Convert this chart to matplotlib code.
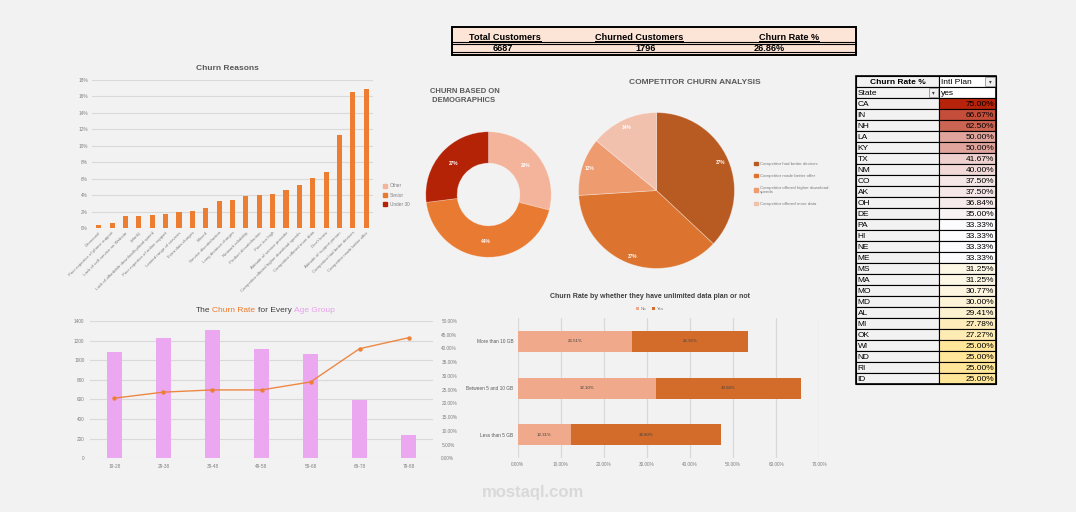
import numpy as np
import matplotlib
matplotlib.use('Agg')
import matplotlib.pyplot as plt
from matplotlib.patches import Rectangle, Patch
from matplotlib.colors import LinearSegmentedColormap, TwoSlopeNorm

plt.rcParams['font.family'] = ['Liberation Sans', 'DejaVu Sans']

W, H = 1076, 512

# ---- data ----
kpi_labels = ['Total Customers', 'Churned Customers', 'Churn Rate %']
kpi_values = ['6687', '1796', '26.86%']

reasons = ["Deceased", "Poor expertise of phone support", "Lack of self-service on Website",
           "(blank)", "Lack of affordable download/upload speed", "Poor expertise of online support",
           "Limited range of services", "Extra data charges", "Moved", "Service dissatisfaction",
           "Long distance charges", "Network reliability", "Product dissatisfaction", "Price too high",
           "Attitude of service provider", "Competitor offered higher download speeds",
           "Competitor offered more data", "Don't know", "Attitude of support person",
           "Competitor had better devices", "Competitor made better offer"]
reason_pct = [0.4, 0.65, 1.5, 1.5, 1.6, 1.7, 1.95, 2.1, 2.45, 3.3, 3.4, 3.9, 4.0, 4.15,
              4.6, 5.25, 6.1, 6.8, 11.3, 16.5, 16.9]

demo_labels = ['Other', 'Senior', 'Under 30']
demo_pct = [29, 44, 27]

comp_labels = ['Competitor had better devices', 'Competitor made better offer',
               'Competitor offered higher download\nspeeds', 'Competitor offered more data']
comp_pct = [37, 37, 12, 14]

age_groups = ['19-28', '29-38', '39-48', '49-58', '59-68', '69-78', '79-88']
age_customers = [1088, 1230, 1309, 1115, 1064, 595, 238]
age_churn = [21.9, 24.1, 24.9, 24.9, 27.8, 39.9, 43.9]

usage_cats = ['Less than 5 GB', 'Between 5 and 10 GB', 'More than 10 GB']
no_pct = [12.31, 32.10, 26.51]
yes_pct = [34.80, 33.58, 26.91]

states = ['CA', 'IN', 'NH', 'LA', 'KY', 'TX', 'NM', 'CO', 'AK', 'OH', 'DE', 'PA', 'HI',
          'NE', 'ME', 'MS', 'MA', 'MO', 'MD', 'AL', 'MI', 'OK', 'WI', 'ND', 'RI', 'ID']
state_rate = [75.00, 66.67, 62.50, 50.00, 50.00, 41.67, 40.00, 37.50, 37.50, 36.84, 35.00,
              33.33, 33.33, 33.33, 33.33, 31.25, 31.25, 30.77, 30.00, 29.41, 27.78, 27.27,
              25.00, 25.00, 25.00, 25.00]

GRID = '#D9D9D9'
TICK = '#7F7F7F'
TITLE = '#595959'
BG = '#F2F2F2'


def frect(x0, y0, x1, y1):
    return [x0 / W, 1 - y1 / H, (x1 - x0) / W, (y1 - y0) / H]


def style(ax):
    ax.set_facecolor('none')
    for s in ax.spines.values():
        s.set_visible(False)
    ax.tick_params(length=0, labelsize=3.4, labelcolor=TICK)


fig = plt.figure(figsize=(W / 100, H / 100), dpi=100)
fig.patch.set_facecolor(BG)

# ---- Churn reasons ----
ax1 = fig.add_axes(frect(92, 80, 373, 228))
style(ax1)
x = np.arange(len(reasons))
ax1.bar(x, reason_pct, width=0.38, color='#ED7D31', zorder=2)
ax1.set_xlim(-0.5, len(reasons) - 0.5)
ax1.set_ylim(0, 18)
ax1.set_yticks(range(0, 19, 2))
ax1.set_yticklabels([f'{v}%' for v in range(0, 19, 2)])
ax1.yaxis.grid(True, color=GRID, lw=0.8)
ax1.set_axisbelow(True)
ax1.set_xticks(x)
ax1.set_xticklabels(reasons, rotation=45, ha='right', rotation_mode='anchor', fontsize=3.2)
ax1.tick_params(axis='y', pad=3)
ax1.tick_params(axis='x', pad=2)
fig.text(227 / W, 1 - 68 / H, 'Churn Reasons', ha='center', va='center',
         fontsize=6, fontweight='bold', color=TITLE)

# ---- Demographics donut ----
demo_colors = ['#F3B49B', '#E97A31', '#B52307']
ax2 = fig.add_axes(frect(424.5, 130.5, 552.5, 258.5))
ax2.pie(demo_pct, colors=demo_colors, startangle=90, counterclock=False,
        wedgeprops=dict(width=0.5, edgecolor=(1, 1, 1, 0.35), linewidth=0.5),
        autopct='%.0f%%', pctdistance=0.75,
        textprops=dict(color='white', fontsize=3.4, fontweight='bold'))
ax2.set_xlim(-1.02, 1.02)
ax2.set_ylim(-1.02, 1.02)
fig.text(430 / W, 1 - 96 / H, 'CHURN BASED ON\n DEMOGRAPHICS', ha='left', va='center',
         fontsize=5.5, fontweight='bold', color=TITLE, linespacing=1.25)
fig.legend([Patch(color=c) for c in demo_colors], demo_labels, loc='center left',
           bbox_to_anchor=(383 / W, 1 - 195 / H), frameon=False, fontsize=3.4,
           labelcolor=TICK, handlelength=0.8, handleheight=0.8, handletextpad=0.6,
           labelspacing=0.85, borderpad=0, borderaxespad=0)

# ---- Competitor pie ----
comp_colors = ['#B85B22', '#DC7430', '#EE9B70', '#F2C1AE']
ax3 = fig.add_axes(frect(577, 111, 736, 270))
ax3.pie(comp_pct, colors=comp_colors, startangle=90, counterclock=False,
        wedgeprops=dict(edgecolor=(1, 1, 1, 0.35), linewidth=0.6),
        autopct='%.0f%%', pctdistance=0.9,
        textprops=dict(color='white', fontsize=3.4, fontweight='bold'))
ax3.set_xlim(-1.02, 1.02)
ax3.set_ylim(-1.02, 1.02)
fig.text(695 / W, 1 - 82 / H, 'COMPETITOR CHURN ANALYSIS', ha='center', va='center',
         fontsize=6, fontweight='bold', color=TITLE)
fig.legend([Patch(color=c) for c in comp_colors], comp_labels, loc='upper left',
           bbox_to_anchor=(754 / W, 1 - 162 / H), frameon=False, fontsize=3.2,
           labelcolor=TICK, handlelength=0.8, handleheight=0.8, handletextpad=0.6,
           labelspacing=1.7, borderpad=0, borderaxespad=0)

# ---- Age group chart ----
ax4 = fig.add_axes(frect(90, 321, 433, 458.3))
style(ax4)
xa = np.arange(len(age_groups))
ax4.bar(xa, age_customers, width=0.31, color='#EBA7F0', zorder=2)
ax4.set_xlim(-0.5, len(age_groups) - 0.5)
ax4.set_ylim(0, 1400)
ax4.set_yticks(range(0, 1401, 200))
ax4.set_yticklabels([str(v) for v in range(0, 1401, 200)])
ax4.yaxis.grid(True, color=GRID, lw=0.8)
ax4.set_axisbelow(True)
ax4.set_xticks(xa)
ax4.set_xticklabels(age_groups)
ax4.tick_params(axis='y', pad=4)
ax4.tick_params(axis='x', pad=4)
ax4b = ax4.twinx()
style(ax4b)
ax4b.plot(xa, age_churn, color='#ED7D31', lw=1, marker='o', ms=2.2, alpha=0.9)
ax4b.set_ylim(0, 50)
ax4b.set_yticks(range(0, 51, 5))
ax4b.set_yticklabels([f'{v:.2f}%' for v in range(0, 51, 5)])
ax4b.tick_params(axis='y', pad=6)

r = fig.canvas.get_renderer()
pieces = [('The', '#404040'), ('Churn Rate', '#F07A2A'), ('for Every', '#404040'),
          ('Age Group', '#E9A0EE')]
ts = [fig.text(0, 1 - 310 / H, s, color=c, fontsize=6, va='center', ha='left')
      for s, c in pieces]
ws = [t.get_window_extent(r).width for t in ts]
gap = 6 * 100 / 72 * 0.28
xp = 265 - (sum(ws) + gap * (len(ws) - 1)) / 2
for t, w in zip(ts, ws):
    t.set_x(xp / W)
    xp += w + gap

# ---- Unlimited data plan chart ----
ax5 = fig.add_axes(frect(517.7, 318, 819.3, 458))
style(ax5)
yb = np.arange(len(usage_cats))
c1 = ax5.barh(yb, no_pct, height=0.45, color='#F0A98A', zorder=2, label='No')
c2 = ax5.barh(yb, yes_pct, left=no_pct, height=0.45, color='#D36C2B', zorder=2, label='Yes')
ax5.bar_label(c1, labels=[f'{v:.2f}%' for v in no_pct], label_type='center',
              fontsize=3.2, color='#404040')
ax5.bar_label(c2, labels=[f'{v:.2f}%' for v in yes_pct], label_type='center',
              fontsize=3.2, color='#404040')
ax5.set_xlim(0, 70)
ax5.set_ylim(-0.5, len(usage_cats) - 0.5)
ax5.set_xticks(range(0, 71, 10))
ax5.set_xticklabels([f'{v:.2f}%' for v in range(0, 71, 10)])
ax5.set_yticks(yb)
ax5.set_yticklabels(usage_cats)
ax5.xaxis.grid(True, color=GRID, lw=0.9)
ax5.set_axisbelow(True)
ax5.tick_params(axis='y', pad=3, labelcolor=TITLE)
ax5.tick_params(axis='x', pad=3)
fig.text(650 / W, 1 - 296 / H, 'Churn Rate by whether they have unlimited data plan or not',
         ha='center', va='center', fontsize=5, fontweight='bold', color='#404040')
fig.legend(handles=[c1, c2], loc='center', bbox_to_anchor=(650 / W, 1 - 309 / H), ncol=2,
           frameon=False, fontsize=3.2, labelcolor=TICK, handlelength=0.8, handleheight=0.8,
           handletextpad=0.4, columnspacing=1.2)

# ---- overlay for the spreadsheet tables ----
ov = fig.add_axes([0, 0, 1, 1])
ov.set_xlim(0, W)
ov.set_ylim(H, 0)
ov.axis('off')

# KPI block
ov.add_patch(Rectangle((452, 27), 404, 27.5, facecolor='#FCE4D6', edgecolor='black', lw=1.4))
for yl in (42.3, 43.8, 52.2):
    ov.plot([452, 856], [yl, yl], color='black', lw=0.8)
for lab, xc in zip(kpi_labels, [504.7, 638.7, 788.8]):
    t = ov.text(xc, 40.5, lab, ha='center', va='baseline', fontsize=6.6, fontweight='bold')
    bb = t.get_window_extent(r).transformed(ov.transData.inverted())
    ov.plot([bb.x0, bb.x1], [41.4, 41.4], color='black', lw=0.7)
for val, xc in zip(kpi_values, [502.8, 645.8, 769.5]):
    t = ov.text(xc, 50.8, val, ha='center', va='baseline', fontsize=6.6, fontweight='bold')
    bb = t.get_window_extent(r).transformed(ov.transData.inverted())
    ov.plot([bb.x0, bb.x1], [51.6, 51.6], color='black', lw=0.7)

# state churn table with colour scale
cmap = LinearSegmentedColormap.from_list('rate', ['#FFE699', '#FCFCFF', '#B7230A'])
norm = TwoSlopeNorm(vmin=25, vcenter=33.33, vmax=75)
tx0, tx1, tx2 = 855.7, 939.3, 995.7
top, rh = 76.0, 11.01
nrows = len(states) + 2
for i in range(nrows):
    y0 = top + i * rh
    ov.add_patch(Rectangle((tx0, y0), tx1 - tx0, rh, facecolor=BG, edgecolor='black', lw=0.8))
    if i >= 2:
        fc = cmap(norm(state_rate[i - 2]))
    else:
        fc = 'white'
    ov.add_patch(Rectangle((tx1, y0), tx2 - tx1, rh, facecolor=fc, edgecolor='black', lw=0.8))
ov.add_patch(Rectangle((tx0, top), tx2 - tx0, nrows * rh, facecolor='none',
                       edgecolor='black', lw=1.2))
ov.text((tx0 + tx1) / 2, top + rh / 2 + 0.5, 'Churn Rate %', ha='center', va='center',
        fontsize=6, fontweight='bold')
ov.text(tx1 + 2, top + rh / 2 + 0.5, 'Intl Plan', ha='left', va='center', fontsize=6)
ov.text(tx0 + 2, top + 1.5 * rh + 0.5, 'State', ha='left', va='center', fontsize=6)
ov.text(tx1 + 2, top + 1.5 * rh + 0.5, 'yes', ha='left', va='center', fontsize=6)
for bx, by in [(tx2 - 10.5, top + 1), (tx1 - 10.5, top + rh + 1)]:
    ov.add_patch(Rectangle((bx, by), 9.5, 9, facecolor='#F0F0F0', edgecolor='#808080', lw=0.5))
    ov.text(bx + 4.75, by + 4.5, '\u25be', ha='center', va='center', fontsize=4,
            color='#404040', family='DejaVu Sans')
for i, (st, v) in enumerate(zip(states, state_rate)):
    yc = top + (i + 2.5) * rh + 0.5
    ov.text(tx0 + 2, yc, st, ha='left', va='center', fontsize=6)
    ov.text(tx2 - 1.5, yc, f'{v:.2f}%', ha='right', va='center', fontsize=6)

# watermark
fig.text(533 / W, 1 - 492 / H, 'mostaql.com', ha='center', va='center', fontsize=12,
         fontweight='bold', color='#D9D9D9')

fig.savefig('out.png', dpi=100, facecolor=fig.get_facecolor())
